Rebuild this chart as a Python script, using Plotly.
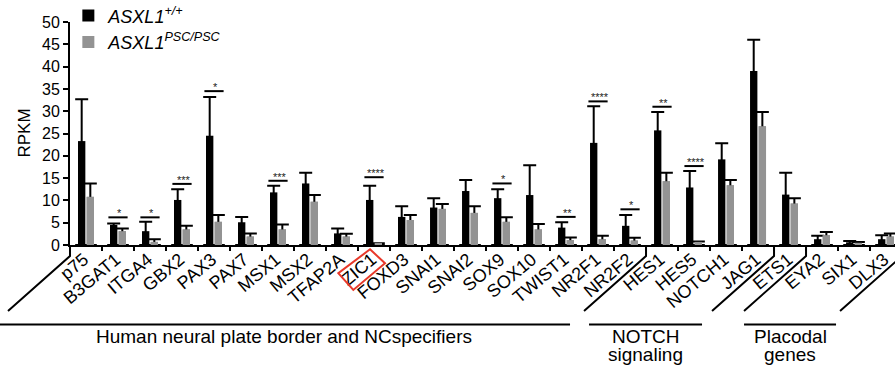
import plotly.graph_objects as go

# ---------------- data ----------------
genes = ["p75", "B3GAT1", "ITGA4", "GBX2", "PAX3", "PAX7", "MSX1", "MSX2", "TFAP2A",
         "ZIC1", "FOXD3", "SNAI1", "SNAI2", "SOX9", "SOX10", "TWIST1", "NR2F1", "NR2F2",
         "HES1", "HES5", "NOTCH1", "JAG1", "ETS1", "EYA2", "SIX1", "DLX3"]

wt_mean = [23.3, 4.5, 3.1, 10.1, 24.5, 5.1, 11.8, 13.8, 2.6, 10.1, 6.3, 8.4, 12.1,
           10.5, 11.2, 3.9, 22.9, 4.3, 25.7, 12.9, 19.2, 39.0, 11.3, 1.3, 0.6, 1.3]
wt_sem = [9.4, 0.3, 2.1, 2.4, 8.7, 1.2, 1.5, 2.4, 1.1, 3.2, 2.4, 2.1, 2.5,
          2.0, 6.7, 1.2, 8.2, 2.4, 4.1, 3.7, 3.6, 7.0, 4.9, 0.8, 0.3, 0.9]

psc_mean = [10.8, 3.1, 0.7, 3.5, 5.2, 1.9, 3.5, 9.7, 1.9, 0.3, 5.6, 8.1, 7.2,
            5.2, 3.5, 1.1, 1.3, 1.0, 14.3, 0.7, 13.4, 26.6, 9.3, 2.2, 0.5, 1.9]
psc_sem = [3.0, 0.6, 0.6, 0.8, 1.5, 0.7, 1.1, 1.5, 0.6, 0.1, 1.1, 1.1, 1.5,
           1.0, 1.2, 0.6, 0.8, 0.6, 1.9, 0.1, 1.2, 3.2, 1.2, 0.7, 0.2, 0.7]

sig_genes = ["B3GAT1", "ITGA4", "GBX2", "PAX3", "MSX1", "ZIC1", "SOX9", "TWIST1",
             "NR2F1", "NR2F2", "HES1", "HES5"]
sig_stars = ["*", "*", "***", "*", "***", "****", "*", "**", "****", "*", "**", "****"]
sig_level = [6.2, 6.2, 13.7, 34.5, 14.4, 15.2, 13.8, 6.3, 32.2, 8.0, 31.0, 17.7]

series_names = ["<i>ASXL1</i><sup><i>+/+</i></sup>", "<i>ASXL1</i><sup><i>PSC/PSC</i></sup>"]
group_lines = [["Human neural plate border and NCspecifiers"], ["NOTCH", "signaling"],
               ["Placodal", "genes"]]
# category boundaries where group separators are drawn
separators = [-0.5, 17.5, 21.5, 22.5, 25.5]

# ---------------- layout geometry ----------------
W, H = 895, 369
ML, MT, MB = 70, 21.7, 124
PW, PH = W - ML, H - MT - MB
XR = [-0.5, 25.28]
BLACK = "#000000"
GRAY = "#939393"
FONT = "Liberation Sans, Arial, sans-serif"


def xpaper(pos, dx=0.0):
    return (pos - XR[0]) / (XR[1] - XR[0]) + dx / PW


def ypx(py):
    return (H - MB - py) / PH


fig = go.Figure()
fig.add_trace(go.Bar(
    x=genes, y=wt_mean, name=series_names[0], marker=dict(color=BLACK, line=dict(width=0)),
    offsetgroup="wt",
    error_y=dict(type="data", symmetric=False, array=wt_sem, arrayminus=wt_mean,
                 color=BLACK, thickness=2, width=6.5),
))
fig.add_trace(go.Bar(
    x=genes, y=psc_mean, name=series_names[1], marker=dict(color=GRAY, line=dict(width=0)),
    offsetgroup="psc",
    error_y=dict(type="data", symmetric=False, array=psc_sem, arrayminus=psc_mean,
                 color=BLACK, thickness=2, width=6.5),
))
# overlay copy so the error stem is hidden inside the grey bars
fig.add_trace(go.Bar(
    x=genes, y=psc_mean, showlegend=False, hoverinfo="skip",
    marker=dict(color=GRAY, line=dict(width=0)), offsetgroup="psc",
))

shapes = []
annotations = []

# significance bars and stars
for g, s, lv in zip(sig_genes, sig_stars, sig_level):
    i = genes.index(g)
    shapes.append(dict(type="line", xref="x", yref="y", x0=i - 0.3, x1=i + 0.3, y0=lv, y1=lv,
                       line=dict(color=BLACK, width=2)))
    annotations.append(dict(x=i + 0.05, y=lv, xref="x", yref="y", text=s, showarrow=False,
                            yanchor="bottom", yshift=-4, font=dict(size=11, color="#222")))

# group separators (vertical stub then diagonal)
sep_ends = []
for b in separators:
    x0 = xpaper(b)
    x2 = xpaper(b, -62)
    shapes.append(dict(type="path", xref="paper", yref="paper",
                       path=f"M{x0},{ypx(245)} L{x0},{ypx(256)} L{x2},{ypx(311)}",
                       line=dict(color=BLACK, width=2)))
    sep_ends.append(x2)

# group underline spans
spans = [(sep_ends[0] - 10 / PW, sep_ends[1] - 14 / PW),
         (sep_ends[1] + 5 / PW, sep_ends[2] - 10 / PW),
         (sep_ends[3], sep_ends[4] - 4 / PW)]
for (a, b), lines in zip(spans, group_lines):
    shapes.append(dict(type="line", xref="paper", yref="paper", x0=a, x1=b,
                       y0=ypx(324.5), y1=ypx(324.5), line=dict(color=BLACK, width=2)))
    for k, t in enumerate(lines):
        annotations.append(dict(x=(a + b) / 2, y=ypx(337 + 18 * k), xref="paper", yref="paper",
                                text=t, showarrow=False, xanchor="center", yanchor="middle",
                                font=dict(size=19, color=BLACK, family=FONT)))

# red box around ZIC1 label
zc = genes.index("ZIC1")
pts = [(-4, 249.3), (11, 263.3), (-20.7, 290), (-35.7, 273.3)]
p = "M" + " L".join(f"{xpaper(zc, dx)},{ypx(py)}" for dx, py in pts) + " Z"
shapes.append(dict(type="path", xref="paper", yref="paper", path=p,
                   line=dict(color="#e8392b", width=2)))

# y-axis title
annotations.append(dict(x=(24 - ML) / PW, y=0.5, xref="paper", yref="paper", text="RPKM",
                        textangle=-90, showarrow=False, xanchor="center", yanchor="middle",
                        font=dict(size=17, color=BLACK, family=FONT)))

fig.update_layout(
    width=W, height=H,
    margin=dict(l=ML, r=0, t=MT, b=MB, pad=0, autoexpand=False),
    paper_bgcolor="white", plot_bgcolor="white",
    barmode="group", bargap=0.46, bargroupgap=0.15,
    font=dict(family=FONT, color=BLACK),
    showlegend=True,
    legend=dict(x=-0.002, y=ypx(-3), xanchor="left", yanchor="top", bgcolor="rgba(0,0,0,0)",
                font=dict(size=18, family=FONT), tracegroupgap=0, itemwidth=30),
    shapes=shapes, annotations=annotations,
    xaxis=dict(type="category", categoryorder="array", categoryarray=genes, range=XR,
               showline=True, linecolor=BLACK, linewidth=2, ticks="outside", ticklen=4,
               tickwidth=1.5, tickcolor=BLACK, tickson="boundaries", tickangle=-40,
               ticklabelstandoff=-5, ticklabelshift=-2, automargin=False,
               tickfont=dict(size=18, family=FONT, color=BLACK), showgrid=False),
    yaxis=dict(range=[0, 50], dtick=5, tick0=0, showline=True, linecolor=BLACK, linewidth=2,
               ticks="outside", ticklen=5, tickwidth=2, tickcolor=BLACK, showgrid=False,
               automargin=False,
               zeroline=False, tickfont=dict(size=16, family=FONT, color=BLACK)),
)

fig.write_html("out.html", config={"displayModeBar": False},
               post_script="document.body.style.margin='0';")
